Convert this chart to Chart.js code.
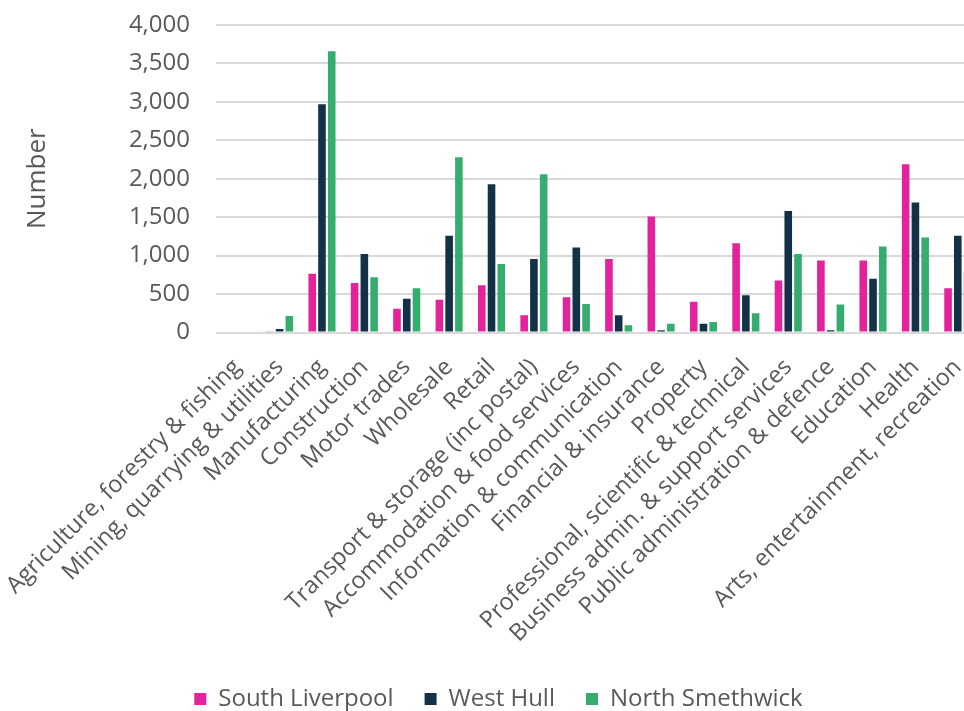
<!DOCTYPE html>
<html>
<head>
<meta charset="utf-8">
<script src="https://cdn.jsdelivr.net/npm/chart.js@4"></script>
<style>
  html, body { margin: 0; padding: 0; background: #fff; overflow: hidden; }
  #wrap { width: 1006px; height: 711px; }
</style>
</head>
<body>
<div id="wrap"><canvas id="barChart"></canvas></div>
<script>
// kategorier (x-axeln)
const sectors = [
  "Agriculture, forestry & fishing",
  "Mining, quarrying & utilities",
  "Manufacturing",
  "Construction",
  "Motor trades",
  "Wholesale",
  "Retail",
  "Transport & storage (inc postal)",
  "Accommodation & food services",
  "Information & communication",
  "Financial & insurance",
  "Property",
  "Professional, scientific & technical",
  "Business admin. & support services",
  "Public administration & defence",
  "Education",
  "Health",
  "Arts, entertainment, recreation"
];

// serier
const southLiverpool = [0, 15, 765, 645, 310, 425, 615, 225, 460, 955, 1510, 400, 1160, 675, 935, 935, 2190, 575];
const westHull       = [0, 45, 2970, 1020, 440, 1260, 1930, 955, 1105, 225, 30, 115, 485, 1580, 30, 700, 1690, 1260];
const northSmethwick = [0, 215, 3660, 720, 575, 2280, 890, 2060, 370, 95, 115, 135, 250, 1020, 365, 1120, 1235, 785];

const yTicks = [0, 500, 1000, 1500, 2000, 2500, 3000, 3500, 4000];

const textColor = "#595959";
const fontFamily = "'Open Sans', 'Noto Sans', sans-serif";

// flytta legenden lite närmare nederkanten
const legendShift = {
  id: "legendShift",
  beforeInit(chart) {
    const origFit = chart.legend.fit;
    chart.legend.fit = function () {
      origFit.call(this);
      this.height -= 10;
    };
  },
};

new Chart(document.getElementById("barChart"), {
  type: "bar",
  data: {
    labels: sectors,
    datasets: [
      { label: "South Liverpool", data: southLiverpool, backgroundColor: "#e3239b" },
      { label: "West Hull", data: westHull, backgroundColor: "#133247" },
      { label: "North Smethwick", data: northSmethwick, backgroundColor: "#35ad6f" },
    ],
  },
  plugins: [legendShift],
  options: {
    responsive: true,
    maintainAspectRatio: false,
    animation: false,
    datasets: {
      bar: { categoryPercentage: 0.69, barPercentage: 0.78 },
    },
    layout: { padding: { top: 25, left: 18, right: 27, bottom: 0 } },
    plugins: {
      tooltip: { enabled: false },
      legend: {
        position: "bottom",
        labels: {
          color: textColor,
          font: { family: fontFamily, size: 24 },
          boxWidth: 12,
          boxHeight: 12,
          padding: 31,
        },
      },
    },
    scales: {
      x: {
        grid: {
          display: false,
          drawTicks: true,
          tickLength: 18,
          tickColor: "rgba(0,0,0,0)",
        },
        border: { display: false },
        afterFit: (scale) => {
          scale.height = 711 - 332.5 - scale.chart.legend.height;
        },
        ticks: {
          color: textColor,
          font: { family: fontFamily, size: 23.5 },
          maxRotation: 45,
          minRotation: 45,
          autoSkip: false,
          padding: 3,
        },
      },
      y: {
        min: 0,
        max: 4000,
        afterBuildTicks: (scale) => {
          scale.ticks = yTicks.map((v) => ({ value: v }));
        },
        afterFit: (scale) => {
          scale.width = 198;
        },
        grid: {
          color: "#d9d9d9",
          lineWidth: 2,
          drawTicks: true,
          tickLength: 23,
          tickColor: "rgba(0,0,0,0)",
        },
        border: { display: false },
        title: {
          display: true,
          text: "Number",
          color: textColor,
          font: { family: fontFamily, size: 26 },
        },
        ticks: {
          color: textColor,
          font: { family: fontFamily, size: 24 },
          padding: 3,
          callback: (v) => v.toLocaleString("en-GB"),
        },
      },
    },
  },
});
</script>
</body>
</html>
